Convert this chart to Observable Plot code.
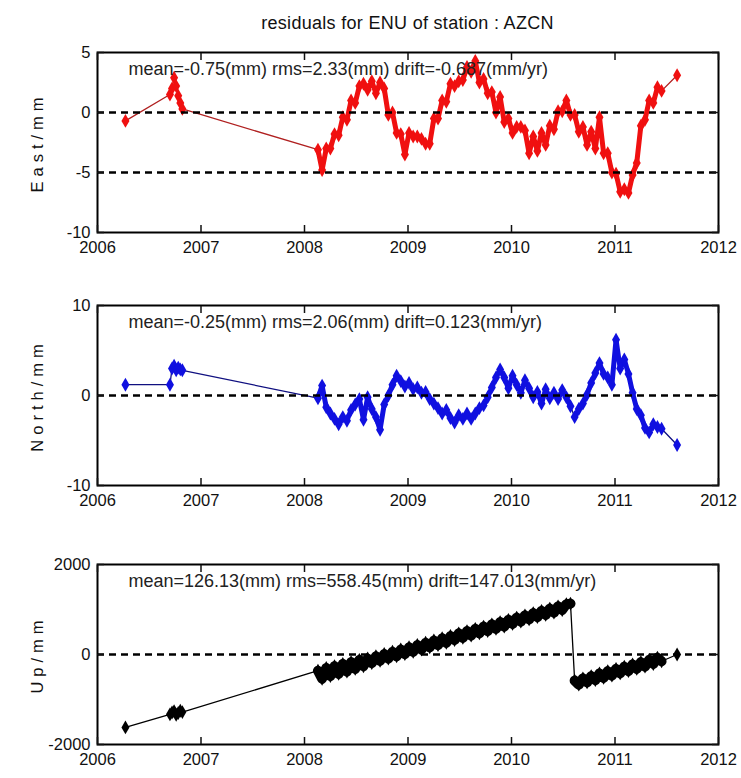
<!DOCTYPE html>
<html><head><meta charset="utf-8">
<script src="https://cdn.jsdelivr.net/npm/d3@7"></script>
<script src="https://cdn.jsdelivr.net/npm/@observablehq/plot@0.6"></script>
<style>
body{margin:0;background:#fff;width:741px;height:778px;position:relative;overflow:hidden;font-family:"Liberation Sans",Arial,sans-serif}
#title{position:absolute;left:97px;width:621px;top:13px;text-align:center;font-size:18px;color:#111;letter-spacing:0.3px}
.panel{position:absolute;left:0}
g[aria-label="y-axis label"] text{letter-spacing:5px;font-size:16.5px}
</style></head><body>
<div id="title">residuals for ENU of station : AZCN</div>
<div id="p1" class="panel" style="top:30px"></div>
<div id="p2" class="panel" style="top:283px"></div>
<div id="p3" class="panel" style="top:542px"></div>
<script>
const dates = [2006.27, 2006.70, 2006.72, 2006.74, 2006.76, 2006.78, 2006.80, 2006.82,
  2008.13, 2008.17, 2008.21, 2008.25, 2008.29, 2008.33, 2008.37, 2008.41, 2008.45, 2008.49, 2008.53,
  2008.57, 2008.61, 2008.65, 2008.69, 2008.73, 2008.77, 2008.81, 2008.85, 2008.89, 2008.93, 2008.97,
  2009.01, 2009.05, 2009.09, 2009.13, 2009.17, 2009.21, 2009.25, 2009.29, 2009.33, 2009.37, 2009.41,
  2009.45, 2009.49, 2009.53, 2009.57, 2009.61, 2009.65, 2009.69, 2009.73, 2009.77, 2009.81, 2009.85,
  2009.89, 2009.93, 2009.97,
  2010.01, 2010.05, 2010.09, 2010.13, 2010.17, 2010.21, 2010.25, 2010.29, 2010.33, 2010.37, 2010.41,
  2010.45, 2010.49, 2010.53, 2010.57, 2010.61, 2010.65, 2010.69, 2010.73, 2010.77, 2010.81, 2010.85,
  2010.89, 2010.93, 2010.97,
  2011.01, 2011.05, 2011.09, 2011.13, 2011.17, 2011.21, 2011.25, 2011.29, 2011.33, 2011.37, 2011.41,
  2011.45, 2011.60];

const east = [-0.7, 1.5, 2.0, 2.9, 2.2, 1.4, 0.8, 0.3,
  -3.1, -4.8, -3.0, -3.0, -1.8, -1.9, -0.4, -0.6, 1.0, 0.8, 2.2,
  2.4, 1.9, 2.6, 1.6, 2.5, 2.0, -0.2, 0.0, -1.7, -1.8, -3.5,
  -1.7, -2.0, -2.0, -2.2, -2.6, -2.6, -0.5, -0.5, 1.0, 0.9, 2.4,
  2.2, 2.6, 2.7, 3.8, 3.4, 4.3, 2.5, 2.8, 1.6, 1.7, 0.0,
  1.3, -0.8, -0.5,
  -1.7, -1.2, -1.2, -1.5, -3.4, -2.0, -3.2, -1.7, -2.7, -1.1, -1.4,
  0.1, 0.1, 1.0, -0.2, -0.2, -1.6, -1.2, -2.7, -1.6, -3.0, -0.4,
  -3.4, -3.4, -5.0,
  -5.1, -6.6, -6.4, -6.7, -5.2, -4.2, -1.1, -0.6, 1.0, 0.8, 2.1,
  1.8, 3.1];

const north = [1.2, 1.2, 3.0, 3.3, 2.8, 3.1, 2.9, 2.8,
  -0.3, 1.1, -1.3, -2.0, -2.6, -3.2, -2.4, -2.8, -1.6, -1.0, -0.4,
  -2.7, -0.2, -1.5, -2.4, -3.8, -1.0, 0.0, 1.2, 2.2, 1.6, 1.0,
  1.4, 0.7, 0.9, 0.3, 0.4, -0.4, -0.9, -1.4, -2.0, -1.6, -2.5,
  -3.0, -2.2, -2.6, -2.0, -2.6, -2.0, -1.4, -1.1, -0.2, 0.9, 2.0,
  2.9, 2.0, 0.8,
  2.2, 1.2, 0.3, 1.7, 0.8, -0.2, 0.4, -0.9, 0.7, -0.3, 0.3,
  -0.4, 0.6, -0.2, -1.2, -2.4, -1.5, -0.9, 0.1, 1.4, 2.5, 3.6,
  2.4, 2.0, 1.2,
  6.2, 3.0, 4.0, 2.4, 0.3, -1.5, -2.2, -3.6, -4.1, -3.2, -3.5,
  -3.7, -5.5];

const up = [-1620, -1330, -1290, -1260, -1340, -1300, -1250, -1280,
  -360, -540, -300, -480, -260, -430, -210, -380, -170, -320, -120,
  -260, -90, -190, -40, -140, 10, -90, 60, -40, 110, 10,
  160, 60, 210, 110, 260, 160, 310, 210, 360, 260, 410,
  320, 470, 370, 520, 420, 570, 470, 620, 520, 670, 570,
  720, 620, 770,
  680, 820, 730, 870, 780, 920, 830, 970, 880, 1020, 930,
  1070, 990, 1120, 1130, -580, -670, -530, -620, -480, -570, -420,
  -520, -370, -470,
  -320, -420, -270, -370, -220, -320, -170, -270, -120, -210, -70,
  -150, 0];

// continuous daily-sampling stretches (drawn with a heavier connecting line)
const denseRanges = [[2008.13, 2010.57], [2010.61, 2011.45]];

const years = [2006, 2007, 2008, 2009, 2010, 2011, 2012];
const eastTicks = [-10, -5, 0, 5];
const northTicks = [-10, 0, 10];
const upTicks = [-2000, 0, 2000];
const eastRefs = [0, -5];
const northRefs = [0];
const upRefs = [0];
const eastStats = "mean=-0.75(mm) rms=2.33(mm) drift=-0.687(mm/yr)";
const northStats = "mean=-0.25(mm) rms=2.06(mm) drift=0.123(mm/yr)";
const upStats = "mean=126.13(mm) rms=558.45(mm) drift=147.013(mm/yr)";

const FONT = '"Liberation Sans", Arial, sans-serif';

function panel({values, color, lineColor, domain, ticks, refs, label, stats, bandWidth}) {
  const data = dates.map((t, i) => ({t, v: values[i]})).filter(d => d.v !== undefined);
  const dense = data.map(d => ({...d, seg: denseRanges.findIndex(([a, b]) => d.t >= a - 1e-9 && d.t <= b + 1e-9)}))
    .filter(d => d.seg >= 0);
  return Plot.plot({
    width: 741, height: 236,
    marginLeft: 97, marginRight: 23, marginTop: 22, marginBottom: 34,
    style: {fontFamily: FONT, fontSize: "16.5px", color: "#111", background: "transparent", overflow: "visible"},
    x: {domain: [2006, 2012], label: null},
    y: {domain, label: null},
    marks: [
      Plot.line(data, {x: "t", y: "v", stroke: lineColor, strokeWidth: 1.3}),
      Plot.line(dense, {x: "t", y: "v", z: "seg", stroke: color, strokeWidth: bandWidth, strokeLinejoin: "round"}),
      Plot.dot(data, {x: "t", y: "v", symbol: "diamond", fill: color, r: 4.2, stroke: null}),
      Plot.ruleY(refs, {stroke: "#000", strokeDasharray: "7,5", strokeWidth: 2.5}),
      Plot.frame({stroke: "#000", strokeWidth: 2}),
      Plot.axisX({anchor: "bottom", ticks: years, tickSize: 0, tickPadding: 9, tickFormat: d => String(d), label: null}),
      Plot.axisX({anchor: "bottom", ticks: years, tickSize: -7, strokeWidth: 1.5, tickFormat: () => "", label: null}),
      Plot.axisX({anchor: "top", ticks: years, tickSize: -7, strokeWidth: 1.5, tickFormat: () => "", label: null}),
      Plot.axisY({anchor: "left", ticks, tickSize: 0, tickPadding: 7, tickFormat: d => String(d),
        label, labelAnchor: "center", labelArrow: "none", labelOffset: 66}),
      Plot.axisY({anchor: "left", ticks, tickSize: -7, strokeWidth: 1.5, tickFormat: () => "", label: null}),
      Plot.axisY({anchor: "right", ticks, tickSize: -7, strokeWidth: 1.5, tickFormat: () => "", label: null}),
      Plot.text([stats], {text: d => d, frameAnchor: "top-left", dx: 31, dy: 10, textAnchor: "start", fontSize: 18, fill: "#222"})
    ]
  });
}

document.getElementById("p1").append(panel({values: east, color: "#f01010", lineColor: "#b02020",
  domain: [-10, 5], ticks: eastTicks, refs: eastRefs, label: "East/mm", stats: eastStats, bandWidth: 5}));
document.getElementById("p2").append(panel({values: north, color: "#1010e0", lineColor: "#101080",
  domain: [-10, 10], ticks: northTicks, refs: northRefs, label: "North/mm", stats: northStats, bandWidth: 5}));
document.getElementById("p3").append(panel({values: up, color: "#000", lineColor: "#000",
  domain: [-2000, 2000], ticks: upTicks, refs: upRefs, label: "Up/mm", stats: upStats, bandWidth: 10}));
</script>
</body></html>
